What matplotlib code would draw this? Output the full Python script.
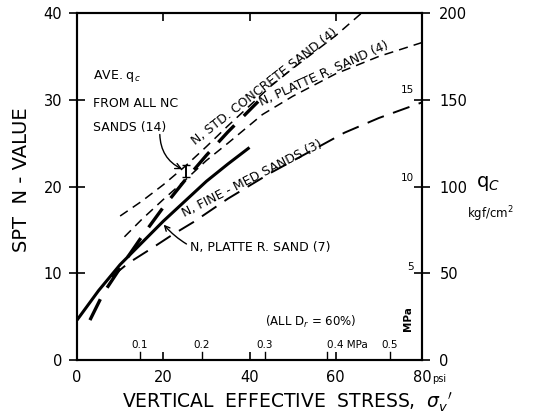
import numpy as np
import matplotlib
matplotlib.use('Agg')
import matplotlib.pyplot as plt

# N vs vertical effective stress (psi)
platte7_x = [0, 5, 10, 15, 20, 25, 30, 35, 40]
platte7_y = [4.6, 8.0, 11.0, 13.5, 16.0, 18.3, 20.6, 22.6, 24.5]

std_x = [10, 15, 20, 25, 30, 35, 40, 45, 50, 55, 60, 66]
std_y = [16.6, 18.3, 20.2, 22.3, 24.6, 27.0, 29.3, 31.6, 33.6, 35.5, 37.4, 40.0]

platte4_x = [11, 15, 20, 25, 30, 35, 43, 50, 60, 70, 80]
platte4_y = [14.2, 16.2, 18.5, 20.7, 23.0, 25.0, 28.3, 30.4, 33.0, 35.0, 36.6]

fine_x = [8, 12, 17.4, 22, 27, 35, 45, 55, 62, 70, 80]
fine_y = [9.6, 11.2, 12.9, 14.4, 15.9, 18.6, 21.6, 24.3, 26.2, 27.9, 29.7]

# average qc (kgf/cm2) from all NC sands
ave_x = [3, 6, 10, 15, 20, 25, 30, 35, 42]
ave_qc = [23, 38, 53, 71, 88, 103.5, 118, 131.5, 149]

x_ticks = [0, 20, 40, 60, 80]
n_ticks = [0, 10, 20, 30, 40]
qc_ticks = [0, 50, 100, 150, 200]
mpa_qc = [5, 10, 15]
mpa_stress = [0.1, 0.2, 0.3, 0.4, 0.5]
mpa_stress_labels = ['0.1', '0.2', '0.3', '0.4 MPa', '0.5']

fig = plt.figure(figsize=(5.45, 4.17), dpi=100)
ax = fig.add_axes([0.1413, 0.1367, 0.633, 0.832])
ax2 = ax.twinx()

ax.set_xlim(0, 80)
ax.set_ylim(0, 40)
ax2.set_ylim(0, 200)

ax.plot(platte7_x, platte7_y, color='k', lw=2.2, solid_capstyle='butt')
ax.plot(std_x, std_y, color='k', lw=1.1, linestyle=(0, (6, 4)))
ax.plot(platte4_x, platte4_y, color='k', lw=1.1, linestyle=(0, (6, 4)))
ax.plot(fine_x, fine_y, color='k', lw=1.4, linestyle=(0, (9, 5)))
ax2.plot(ave_x, ave_qc, color='k', lw=2.4, linestyle=(0, (7, 4)))

# range bar near the average line
ax.errorbar([25.2], [21.8], yerr=[0.7], color='k', lw=1.4, capsize=3)

tfs = 9
ax.annotate('N, STD. CONCRETE SAND (4)', xy=(27.8, 24.2), xytext=(0, 2),
            textcoords='offset points', rotation=38, rotation_mode='anchor',
            ha='left', va='bottom', fontsize=tfs)
ax.annotate('N, PLATTE R. SAND (4)', xy=(43.2, 28.6), xytext=(0, 2),
            textcoords='offset points', rotation=24.5, rotation_mode='anchor',
            ha='left', va='bottom', fontsize=tfs)
ax.annotate('N, FINE - MED SANDS (3)', xy=(25.3, 15.8), xytext=(0, 2),
            textcoords='offset points', rotation=27, rotation_mode='anchor',
            ha='left', va='bottom', fontsize=tfs)

ax.annotate('N, PLATTE R. SAND (7)', xy=(20.1, 15.6), xytext=(26.3, 13.0),
            ha='left', va='center', fontsize=tfs,
            arrowprops=dict(arrowstyle='->', color='k', lw=1,
                            connectionstyle='arc3,rad=-0.35', shrinkA=1, shrinkB=0))

ax.text(3.7, 32.8, 'AVE. q$_c$', fontsize=tfs, ha='left', va='center')
ax.text(3.7, 29.6, 'FROM ALL NC', fontsize=tfs, ha='left', va='center')
ax.text(3.7, 26.8, 'SANDS (14)', fontsize=tfs, ha='left', va='center')
ax.annotate('', xy=(24.4, 22.0), xytext=(19.2, 26.0),
            arrowprops=dict(arrowstyle='->', color='k', lw=1,
                            connectionstyle='arc3,rad=0.3', shrinkA=0, shrinkB=0))

ax.text(43.5, 4.4, '(ALL D$_r$ = 60%)', fontsize=8.5, ha='left', va='center')
ax.text(76.8, 4.8, 'MPa', fontsize=7.5, rotation=90, ha='center', va='center',
        fontweight='bold')

# MPa scales inside the frame
for v in mpa_qc:
    ax2.text(78.2, v * 10.197, str(v), fontsize=7.5, ha='right', va='bottom')
for v, lab in zip(mpa_stress, mpa_stress_labels):
    xs = v * 145.04
    ax.plot([xs, xs], [0, 0.9], color='k', lw=1)
    ax.text(xs, 1.1, lab, fontsize=7.5, ha='center' if 'MPa' not in lab else 'left',
            va='bottom')

# axes, ticks
ax.set_xticks(x_ticks)
ax.set_xticklabels([str(v) for v in x_ticks])
ax.set_yticks(n_ticks)
ax.set_yticklabels([str(v) for v in n_ticks])
ax2.set_yticks(qc_ticks)
ax2.set_yticklabels([str(v) for v in qc_ticks])

ax.tick_params(axis='x', direction='in', length=6, width=1.2, top=True,
               labelsize=10.5, pad=7)
ax.tick_params(axis='y', direction='inout', length=11, width=1.2,
               labelsize=10.5, pad=5)
ax2.tick_params(axis='y', direction='inout', length=11, width=1.2,
                labelsize=10.5, pad=7)
for a in (ax, ax2):
    for s in a.spines.values():
        s.set_linewidth(1.5)

ax.annotate('psi', xy=(80, 0), xytext=(7, -14), textcoords='offset points',
            fontsize=7, ha='left', va='center')

fig.text(0.04, 0.57, 'SPT  N - VALUE', rotation=90, fontsize=14,
         ha='center', va='center')
fig.text(0.527, 0.035, "VERTICAL  EFFECTIVE  STRESS,  $\\sigma_v{}'$", fontsize=13.5,
         ha='center', va='center')
fig.text(0.895, 0.56, 'q$_C$', fontsize=14, ha='center', va='center')
fig.text(0.9, 0.487, 'kgf/cm$^2$', fontsize=8.5, ha='center', va='center')

fig.savefig('out.png', dpi=100)
